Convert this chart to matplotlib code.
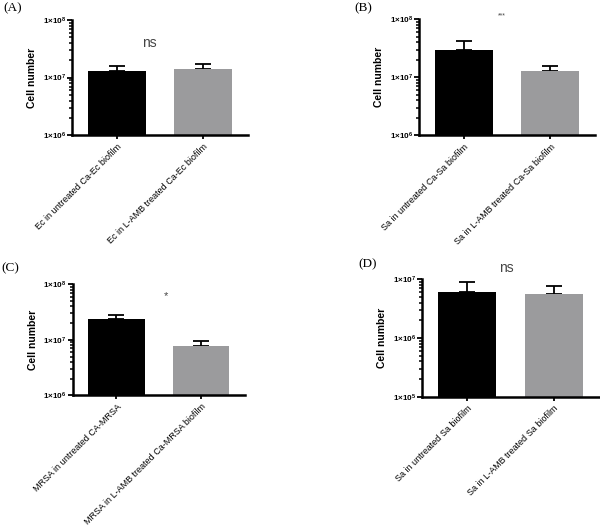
import matplotlib
matplotlib.use('Agg')
import matplotlib.pyplot as plt
from matplotlib.ticker import FixedLocator, NullFormatter, LogLocator
import numpy as np

plt.rcParams['font.family'] = ['Liberation Sans', 'DejaVu Sans']
plt.rcParams['mathtext.default'] = 'regular'

# panel data: mean cell numbers and upper error (SD)
labels_a = ['Ec in untreated Ca-Ec biofilm', 'Ec in L-AMB treated Ca-Ec biofilm']
means_a = [1.3e7, 1.4e7]
err_a = [3.0e6, 3.3e6]

labels_b = ['Sa in untreated Ca-Sa biofilm', 'Sa in L-AMB treated Ca-Sa biofilm']
means_b = [3.0e7, 1.27e7]
err_b = [1.3e7, 3.0e6]

labels_c = ['MRSA in untreated CA-MRSA', 'MRSA in L-AMB treated Ca-MRSA biofilm']
means_c = [2.4e7, 7.8e6]
err_c = [4.0e6, 1.7e6]

labels_d = ['Sa in untreated Sa biofilm', 'Sa in L-AMB treated Sa biofilm']
means_d = [6.1e6, 5.7e6]
err_d = [2.8e6, 1.9e6]

exps_a = [6, 7, 8]
exps_b = [6, 7, 8]
exps_c = [6, 7, 8]
exps_d = [5, 6, 7]

sig_a, sig_b, sig_c, sig_d = 'ns', '***', '*', 'ns'

colors = ['#000000', '#9b9b9d']

fig = plt.figure(figsize=(6, 5.26), dpi=100)


def draw_panel(rect, labels, means, errs, exps, sig, sig_pos, sig_size, letter, letter_pos):
    ax = fig.add_axes(rect)
    x = np.arange(len(means))
    ax.bar(x, means, width=0.67, color=colors, zorder=2)
    ax.errorbar(x, means, yerr=[np.zeros(len(errs)), errs], fmt='none',
                ecolor='black', elinewidth=1.3, capsize=5.5, capthick=1.3, zorder=1)
    ax.set_yscale('log')
    ax.set_ylim(10 ** exps[0], 10 ** exps[-1])
    ax.set_xlim(-0.52, 1.52)
    ax.yaxis.set_major_locator(FixedLocator([10.0 ** e for e in exps]))
    ax.set_yticklabels([f'1×10$^{{{e}}}$' for e in exps], fontsize=5.8, fontweight='bold')
    ax.yaxis.set_minor_locator(LogLocator(base=10, subs=np.arange(2, 10), numticks=20))
    ax.yaxis.set_minor_formatter(NullFormatter())
    ax.set_xticks(x)
    ax.set_xticklabels(labels, rotation=45, ha='right', rotation_mode='anchor', fontsize=6.5)
    ax.tick_params(axis='y', which='major', length=3.5, width=1.3, pad=1)
    ax.tick_params(axis='y', which='minor', length=2.2, width=1.1)
    ax.tick_params(axis='x', length=3, width=1.3, pad=2)
    for side in ['top', 'right']:
        ax.spines[side].set_visible(False)
    for side in ['left', 'bottom']:
        ax.spines[side].set_linewidth(1.8)
    ax.set_ylabel('Cell number', fontsize=7.5, fontweight='bold', labelpad=4)
    ax.text(sig_pos[0], sig_pos[1], sig, transform=ax.transAxes, ha='center',
            va='center', fontsize=sig_size, color='#444444')
    fig.text(letter_pos[0], letter_pos[1], letter, family='Liberation Serif',
             fontsize=9.5, ha='left', va='center')
    return ax


draw_panel([0.12, 0.743, 0.293, 0.219], labels_a, means_a, err_a, exps_a,
           sig_a, (0.44, 0.80), 10, '(A)', (0.005, 0.985))
draw_panel([0.698, 0.743, 0.294, 0.220], labels_b, means_b, err_b, exps_b,
           sig_b, (0.47, 1.03), 5, '(B)', (0.59, 0.985))
draw_panel([0.121, 0.2485, 0.287, 0.211], labels_c, means_c, err_c, exps_c,
           sig_c, (0.54, 0.89), 8, '(C)', (0.003, 0.49))
draw_panel([0.703, 0.246, 0.295, 0.223], labels_d, means_d, err_d, exps_d,
           sig_d, (0.48, 1.10), 10, '(D)', (0.598, 0.497))

fig.savefig('out.png', dpi=100)
